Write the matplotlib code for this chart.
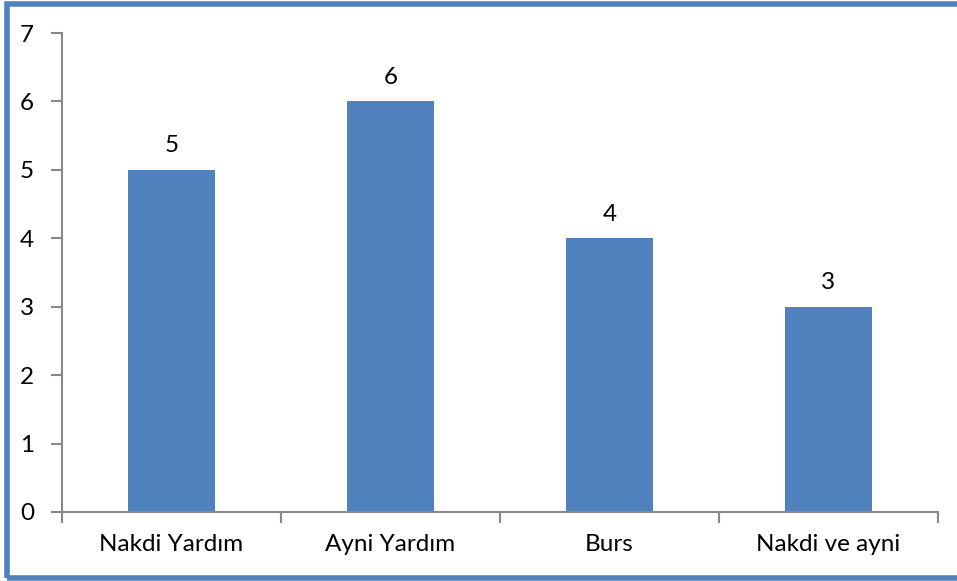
import matplotlib
matplotlib.use("Agg")
import matplotlib.pyplot as plt
from matplotlib.patches import Rectangle
import numpy as np

categories = ["Nakdi Yardım", "Ayni Yardım", "Burs", "Nakdi ve ayni"]
values = [5, 6, 4, 3]
yticks = [0, 1, 2, 3, 4, 5, 6, 7]

plt.rcParams['font.family'] = ['Lato', 'DejaVu Sans']

W, H = 957, 581
fig = plt.figure(figsize=(W / 100, H / 100), dpi=100)
ax = fig.add_axes([62 / W, (H - 512) / H, (938 - 62) / W, (512 - 33) / H])

bar_color = "#4F81BD"
axis_color = "#898989"
fs = 17.5

x = np.arange(len(categories))
bars = ax.bar(x, values, width=0.4, color=bar_color, zorder=2)
for xi, v in zip(x, values):
    ax.text(xi, v + 0.2, str(v), ha="center", va="bottom", fontsize=fs, color="black")

ax.set_xlim(-0.5, len(categories) - 0.5)
ax.set_ylim(0, 7)
ax.set_yticks(yticks)
ax.set_yticklabels([str(t) for t in yticks], fontsize=fs)
ax.set_xticks(x)
ax.set_xticklabels(categories, fontsize=fs)
ax.set_xticks(np.arange(len(categories) + 1) - 0.5, minor=True)

ax.tick_params(axis="x", which="major", length=0, pad=16)
ax.tick_params(axis="x", which="minor", length=8, color=axis_color, width=1.5, direction="out")
ax.tick_params(axis="y", which="major", length=8, color=axis_color, width=1.5, pad=12)

for s in ["top", "right"]:
    ax.spines[s].set_visible(False)
for s in ["left", "bottom"]:
    ax.spines[s].set_color(axis_color)
    ax.spines[s].set_linewidth(1.5)

# outer frame
fig.patches.append(Rectangle((6.5 / W, (H - 577.5) / H), (W + 20) / W, (577.5 - 3.5) / H,
                             transform=fig.transFigure, fill=False,
                             edgecolor=bar_color, linewidth=4, zorder=10))

fig.savefig("out.png", dpi=100)
